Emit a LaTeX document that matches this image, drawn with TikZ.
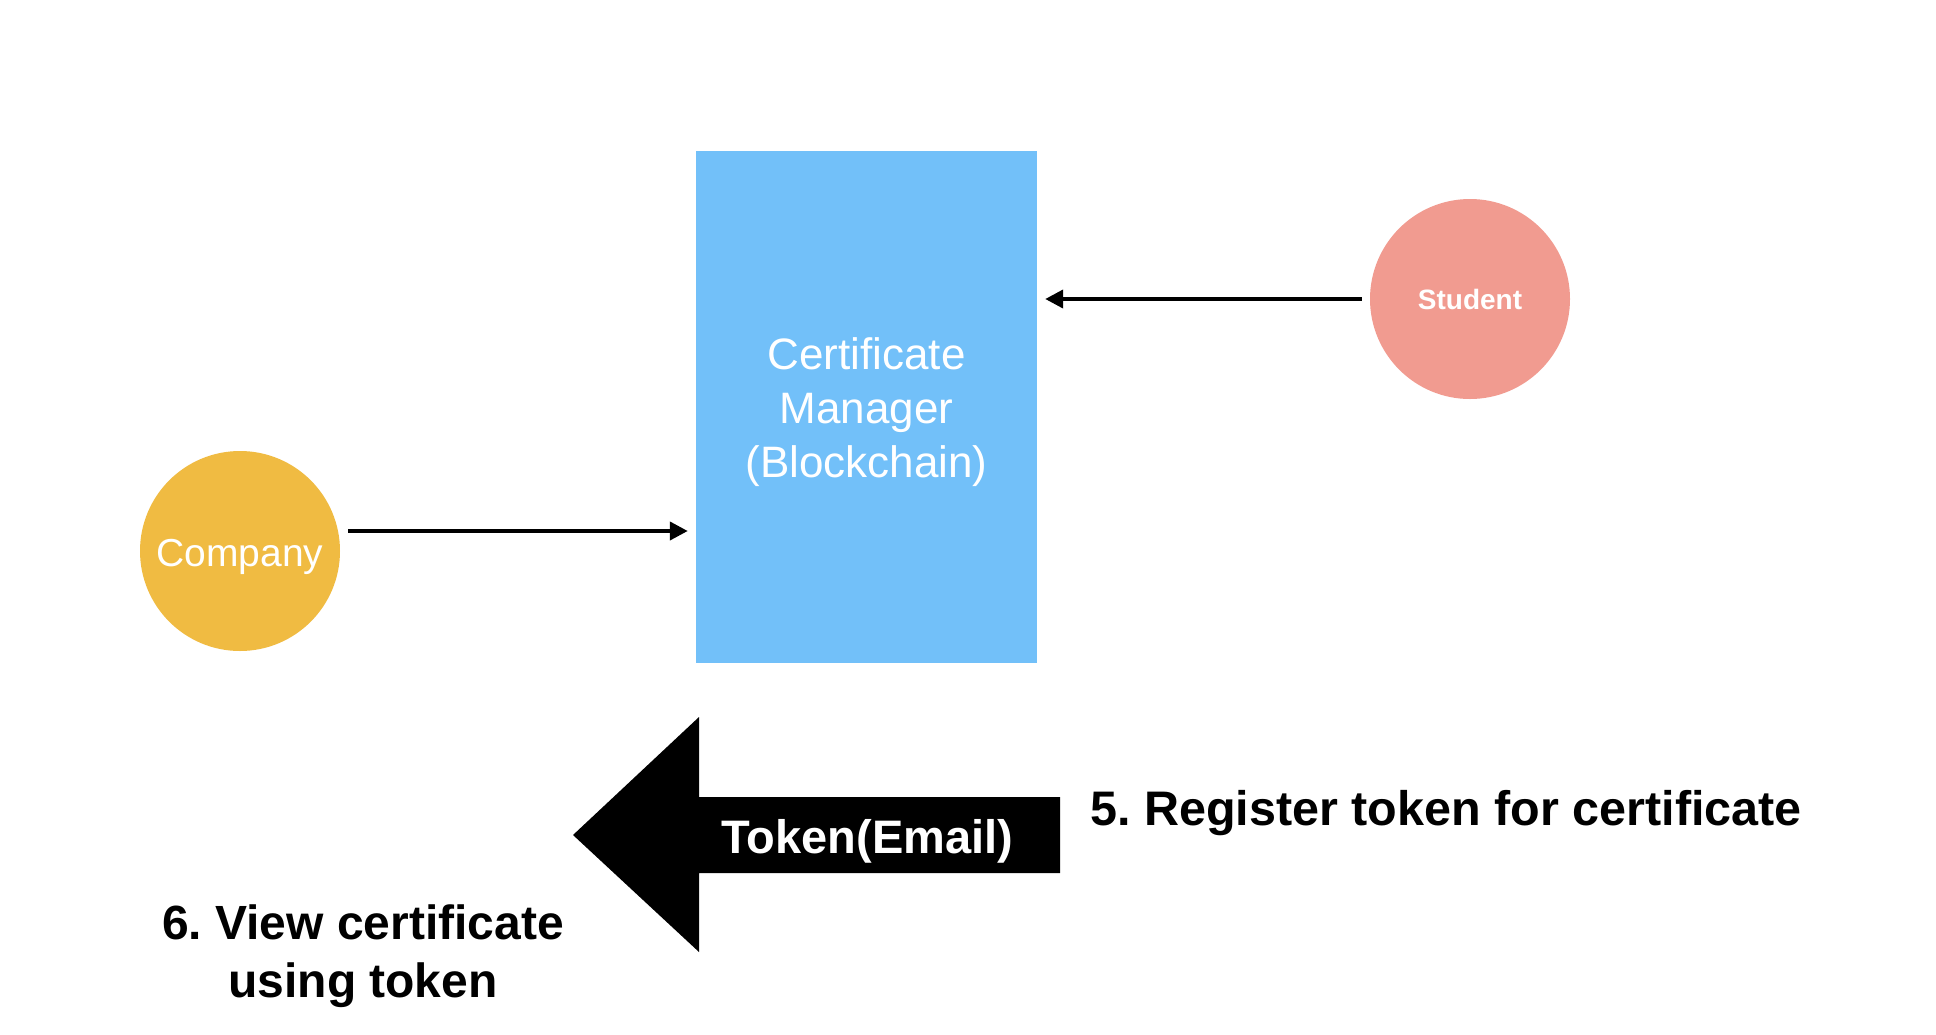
\documentclass[tikz,border=0pt]{standalone}
\usepackage{fontspec}
\setmainfont{Liberation Sans}
\usetikzlibrary{arrows.meta,calc}
\definecolor{boxblue}{RGB}{114,192,249}
\definecolor{studentpink}{RGB}{241,155,144}
\definecolor{companyyellow}{RGB}{240,187,66}
\tikzset{
  conn/.style={line width=4pt,-{Triangle[length=18pt,width=18pt]}},
  actor/.style={circle,minimum size=200pt,inner sep=0pt,text=white},
  steplabel/.style={font=\fontsize{48.5}{58}\selectfont\bfseries,inner sep=0pt}
}
\begin{document}
\frenchspacing
\begin{tikzpicture}[x=1pt,y=-1pt]
\useasboundingbox (0,0) rectangle (1936,1034);
\fill[white] (0,0) rectangle (1936,1034);
% central box
\node[rectangle,fill=boxblue,minimum width=341pt,minimum height=512pt,inner sep=0pt,
      text=white,align=center,font=\fontsize{44}{54}\selectfont] (box) at (866.5,407)
      {\\[-12pt]Certificate\\Manager\\(Blockchain)};
% actors
\node[actor,fill=studentpink,font=\fontsize{28}{34}\selectfont\bfseries] (student) at (1470,299) {Student};
\node[actor,fill=companyyellow,font=\fontsize{39}{46}\selectfont,text height=38pt,text depth=8pt] (company) at (240,551) {Company};
% connectors
\draw[conn] ($(company.east)+(8,-20)$) -- ($(box.west |- company.east)+(-8,-20)$);
\draw[conn] ($(student.west)+(-8,0)$) -- ($(box.east |- student.west)+(8,0)$);
% big arrow
\fill[black] (573,835) -- (699,717) -- (699,797) -- (1060,797) -- (1060,873)
   -- (699,873) -- (699,952) -- cycle;
\node[anchor=base,text=white,font=\fontsize{47}{56}\selectfont\bfseries,inner sep=0pt] (token) at (867.5,853) {Token(Email)};
% labels
\node[steplabel,anchor=base west] (register) at (1090,825) {5. Register token for certificate};
\node[steplabel,align=center,font=\fontsize{48}{58}\selectfont\bfseries] (view) at (363,956) {6. View certificate\\using token};
\end{tikzpicture}
\end{document}
